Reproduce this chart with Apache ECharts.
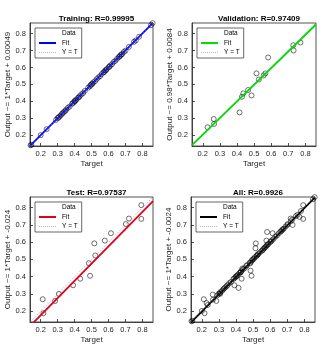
<!DOCTYPE html>
<html>
<head>
<meta charset="utf-8">
<script src="https://cdn.jsdelivr.net/npm/echarts@6/dist/echarts.min.js"></script>
<style>
  html, body { margin: 0; padding: 0; background: #fff; }
  #chart { width: 327px; height: 349px; }
</style>
</head>
<body>
<div id="chart"></div>
<script>
// axis range shared by every panel
const axisMin = 0.137
const axisMax = 0.862

// training set
const trainTarget = [0.14, 0.145, 0.2, 0.235, 0.29, 0.3, 0.305, 0.31, 0.318, 0.325, 0.33, 0.337, 0.345, 0.35, 0.36, 0.37, 0.385, 0.39, 0.398, 0.4, 0.405, 0.41, 0.42, 0.425, 0.43, 0.44, 0.45, 0.46, 0.48, 0.49, 0.495, 0.5, 0.505, 0.51, 0.52, 0.53, 0.54, 0.55, 0.56, 0.57, 0.575, 0.58, 0.585, 0.59, 0.6, 0.605, 0.61, 0.62, 0.63, 0.64, 0.65, 0.66, 0.665, 0.67, 0.675, 0.68, 0.69, 0.7, 0.72, 0.75, 0.76, 0.78, 0.85, 0.86]
const trainOutput = [0.141, 0.144, 0.201, 0.236, 0.291, 0.302, 0.304, 0.311, 0.317, 0.326, 0.331, 0.338, 0.344, 0.351, 0.362, 0.369, 0.386, 0.391, 0.397, 0.402, 0.404, 0.411, 0.421, 0.424, 0.431, 0.441, 0.449, 0.462, 0.481, 0.489, 0.497, 0.501, 0.504, 0.512, 0.519, 0.531, 0.541, 0.549, 0.561, 0.571, 0.574, 0.582, 0.584, 0.591, 0.601, 0.604, 0.611, 0.619, 0.632, 0.639, 0.651, 0.661, 0.664, 0.671, 0.676, 0.679, 0.691, 0.699, 0.721, 0.751, 0.759, 0.781, 0.849, 0.861]

// validation set
const valTarget = [0.228, 0.264, 0.266, 0.415, 0.429, 0.437, 0.465, 0.485, 0.514, 0.528, 0.556, 0.566, 0.582, 0.729, 0.731, 0.771]
const valOutput = [0.247, 0.296, 0.267, 0.335, 0.427, 0.447, 0.467, 0.435, 0.565, 0.529, 0.553, 0.565, 0.659, 0.731, 0.700, 0.747]

// test set
const testTarget = [0.212, 0.216, 0.285, 0.307, 0.391, 0.433, 0.484, 0.491, 0.516, 0.522, 0.578, 0.614, 0.702, 0.720, 0.793, 0.793]
const testOutput = [0.269, 0.188, 0.259, 0.300, 0.350, 0.388, 0.478, 0.405, 0.593, 0.523, 0.609, 0.652, 0.705, 0.737, 0.815, 0.735]

// fit line end points over the axis range
const trainFit = [[0.137, 0.1375], [0.862, 0.8625]]
const valFit = [[0.137, 0.1427], [0.862, 0.8532]]
const testFit = [[0.137, 0.113], [0.862, 0.838]]
const allFit = [[0.137, 0.1346], [0.862, 0.8596]]
const identity = [[0.137, 0.137], [0.862, 0.862]]

const titles = ['Training: R=0.99995', 'Validation: R=0.97409', 'Test: R=0.97537', 'All: R=0.9926']
const yNames = ['Output ~= 1*Target + 0.00049', 'Output ~= 0.98*Target + 0.0084', 'Output ~= 1*Target + -0.024', 'Output ~= 1*Target + -0.0024']
const fitColors = ['#0000ff', '#00e000', '#e0001b', '#000000']

const zip = (a, b) => a.map((v, i) => [v, b[i]])
const panelData = [
  zip(trainTarget, trainOutput),
  zip(valTarget, valOutput),
  zip(testTarget, testOutput),
  zip(trainTarget.concat(valTarget, testTarget), trainOutput.concat(valOutput, testOutput))
]
const panelFit = [trainFit, valFit, testFit, allFit]

const boxes = [
  { left: 30, top: 23, width: 123, height: 123 },
  { left: 192, top: 23, width: 124, height: 123 },
  { left: 30, top: 197, width: 123, height: 125 },
  { left: 191, top: 197, width: 124, height: 125 }
]

const axisColor = '#262626'
const font = 'Liberation Sans, Arial, sans-serif'
const hidden = { opacity: 0 }

const grid = [], xAxis = [], yAxis = [], title = [], legend = [], series = []
boxes.forEach((b, i) => {
  grid.push({ left: b.left, top: b.top, width: b.width, height: b.height, show: true,
    borderColor: axisColor, borderWidth: 0.8, backgroundColor: '#fff' })
  const axisBase = {
    gridIndex: i, type: 'value', min: axisMin, max: axisMax, splitNumber: 7,
    nameLocation: 'middle',
    nameTextStyle: { fontSize: 8, color: axisColor, fontFamily: font },
    axisLine: { show: true, lineStyle: { color: axisColor, width: 0.8 } },
    axisTick: { show: true, inside: true, length: 3, lineStyle: { color: axisColor, width: 0.8 } },
    axisLabel: { fontSize: 7.5, color: axisColor, fontFamily: font, showMinLabel: false, showMaxLabel: false, margin: 4 },
    splitLine: { show: false }
  }
  xAxis.push(Object.assign({}, axisBase, { name: 'Target', nameGap: 14 }))
  yAxis.push(Object.assign({}, axisBase, { name: yNames[i], nameGap: 18 }))
  title.push({ text: titles[i], left: b.left + b.width / 2, textAlign: 'center', top: b.top - 13,
    textStyle: { fontSize: 8, fontWeight: 'bold', color: '#000', fontFamily: font } })
  legend.push({
    data: [
      { name: 'Data' + i, icon: 'emptyCircle' },
      { name: 'Fit' + i, itemStyle: hidden },
      { name: 'Y = T' + i, itemStyle: hidden, lineStyle: { width: 0.6, color: '#888', type: [1, 1] } }
    ],
    formatter: name => name.replace(/\d$/, ''),
    orient: 'vertical', left: b.left + 5, top: b.top + 5,
    itemWidth: 17, itemHeight: 5, itemGap: 2.5, padding: [2, 4, 2, 3],
    borderColor: axisColor, borderWidth: 0.7, backgroundColor: '#fff',
    selectedMode: false,
    textStyle: { fontSize: 6.5, color: '#000', fontFamily: font, padding: [0, 0, 0, 1] }
  })
  series.push({
    name: 'Data' + i, type: 'scatter', xAxisIndex: i, yAxisIndex: i,
    data: panelData[i], symbol: 'circle', symbolSize: 5,
    itemStyle: { color: 'rgba(0,0,0,0)', borderColor: '#000', borderWidth: 0.7 },
    emphasis: { disabled: true }, z: 2
  })
  series.push({
    name: 'Fit' + i, type: 'line', xAxisIndex: i, yAxisIndex: i,
    data: panelFit[i], symbol: 'none', lineStyle: { color: fitColors[i], width: 1.8 },
    itemStyle: { color: fitColors[i] }, z: 3
  })
  series.push({
    name: 'Y = T' + i, type: 'line', xAxisIndex: i, yAxisIndex: i,
    data: identity, symbol: 'none', lineStyle: { color: '#777', width: 0.6, type: [1, 1.5] },
    itemStyle: { color: '#777' }, z: 4
  })
})

const chart = echarts.init(document.getElementById('chart'), null, { renderer: 'canvas' })
chart.setOption({ animation: false, backgroundColor: '#fff', grid, xAxis, yAxis, title, legend, series })
</script>
</body>
</html>
